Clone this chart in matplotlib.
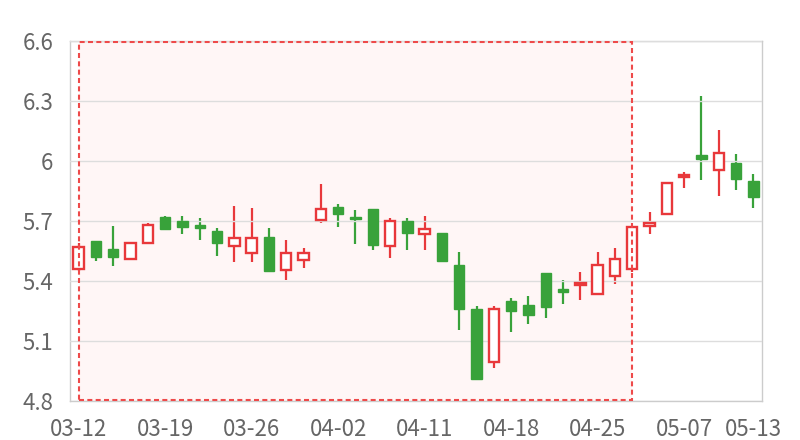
import numpy as np
import matplotlib
matplotlib.use('agg')
import matplotlib.pyplot as plt
from matplotlib.patches import Rectangle
from matplotlib.ticker import FuncFormatter

plt.rcParams['font.family'] = ['Noto Sans CJK SC', 'DejaVu Sans']

dates = ['03-12', '03-13', '03-14', '03-15', '03-18', '03-19', '03-20', '03-21',
         '03-22', '03-25', '03-26', '03-27', '03-28', '03-29', '04-01', '04-02',
         '04-03', '04-04', '04-09', '04-10', '04-11', '04-12', '04-15', '04-16',
         '04-17', '04-18', '04-19', '04-22', '04-23', '04-24', '04-25', '04-26',
         '04-29', '04-30', '05-06', '05-07', '05-08', '05-09', '05-10', '05-13']

opens = [5.46, 5.60, 5.56, 5.51, 5.59, 5.72, 5.70, 5.68, 5.65, 5.575,
         5.54, 5.62, 5.455, 5.505, 5.705, 5.77, 5.72, 5.76, 5.574, 5.70,
         5.633, 5.64, 5.48, 5.26, 4.995, 5.30, 5.28, 5.44, 5.358, 5.382,
         5.333, 5.423, 5.462, 5.673, 5.733, 5.922, 6.028, 5.953, 5.99, 5.90]
closes = [5.57, 5.52, 5.52, 5.59, 5.68, 5.66, 5.67, 5.665, 5.59, 5.617,
          5.617, 5.45, 5.54, 5.54, 5.758, 5.733, 5.71, 5.58, 5.70, 5.64,
          5.658, 5.50, 5.26, 4.91, 5.258, 5.252, 5.232, 5.272, 5.343, 5.39,
          5.478, 5.508, 5.668, 5.689, 5.888, 5.93, 6.012, 6.038, 5.912, 5.82]
highs = [5.59, 5.60, 5.675, 5.595, 5.69, 5.725, 5.725, 5.715, 5.665, 5.775,
         5.765, 5.665, 5.605, 5.565, 5.885, 5.785, 5.755, 5.76, 5.715, 5.715,
         5.725, 5.64, 5.545, 5.275, 5.275, 5.315, 5.325, 5.44, 5.405, 5.445,
         5.545, 5.565, 5.675, 5.745, 5.895, 5.945, 6.325, 6.153, 6.035, 5.935]
lows = [5.45, 5.50, 5.475, 5.505, 5.59, 5.655, 5.635, 5.605, 5.525, 5.497,
        5.497, 5.45, 5.405, 5.465, 5.689, 5.668, 5.587, 5.555, 5.517, 5.555,
        5.555, 5.497, 5.157, 4.91, 4.967, 5.147, 5.187, 5.217, 5.287, 5.307,
        5.333, 5.387, 5.447, 5.637, 5.733, 5.867, 5.907, 5.827, 5.857, 5.767]

label_idx = [0, 5, 10, 15, 20, 25, 30, 35, 39]
area_start, area_end = 0, 32

up_color = '#e8383b'
down_color = '#38a23a'

fig = plt.figure(figsize=(8, 4.4), dpi=100)
ax = fig.add_axes([0.0875, 0.0886, 0.865, 0.8182])

x = np.arange(len(dates))
o = np.array(opens)
c = np.array(closes)
h = np.array(highs)
l = np.array(lows)
up = c >= o

# shaded area
ax.add_patch(Rectangle((area_start, 4.8), area_end - area_start, 1.8,
                       facecolor='#fff6f6', edgecolor='none', zorder=0.2))
ax.add_patch(Rectangle((area_start, 4.805), area_end - area_start, 1.79,
                       facecolor='none', edgecolor='#ee4a4a', lw=1.5,
                       linestyle=(0, (2.4, 1.6)), zorder=4))

w = 0.6
for i in x:
    col = up_color if up[i] else down_color
    ax.vlines(i, l[i], h[i], color=col, lw=1.6, zorder=2)
    bot = min(o[i], c[i])
    hgt = max(abs(c[i] - o[i]), 0.004)
    if up[i]:
        ax.add_patch(Rectangle((i - w / 2, bot), w, hgt, facecolor='white',
                               edgecolor=col, lw=1.7, zorder=3))
    else:
        ax.add_patch(Rectangle((i - w / 2, bot), w, hgt, facecolor=col,
                               edgecolor=col, lw=1.0, zorder=3))

ax.set_xlim(-0.5, len(dates) - 0.5)
ax.set_ylim(4.8, 6.6)
ax.set_yticks(np.arange(4.8, 6.61, 0.3))
ax.yaxis.set_major_formatter(FuncFormatter(lambda v, p: ('%.1f' % v).rstrip('0').rstrip('.')))
ax.set_xticks(label_idx)
ax.set_xticklabels([dates[i] for i in label_idx])

ax.grid(axis='y', color='#dddddd', lw=1, zorder=1)
ax.set_axisbelow(False)
for s in ax.spines.values():
    s.set_color('#cccccc')
    s.set_linewidth(1)
ax.tick_params(length=0, labelsize=16, colors='#666666')
ax.tick_params(axis='x', pad=12)
ax.tick_params(axis='y', pad=12)

plt.savefig('out.png')
